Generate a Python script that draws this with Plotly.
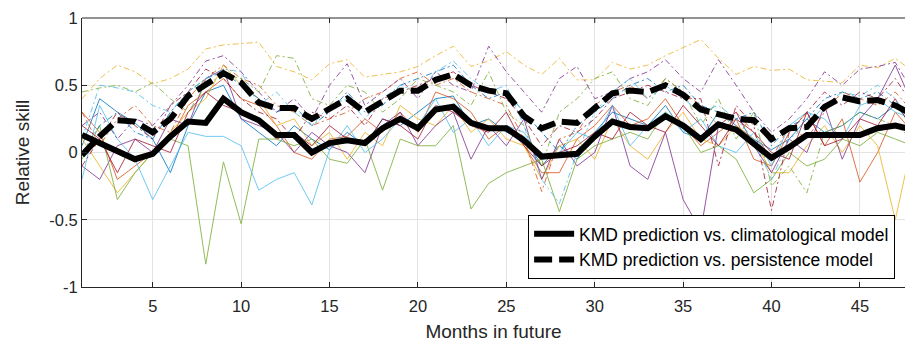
import plotly.graph_objects as go

months = list(range(1, 49))

# Thick black summary lines
clim_skill = [0.13, 0.07, 0.01, -0.05, -0.01, 0.12, 0.23, 0.22, 0.40, 0.30, 0.24, 0.13,
              0.13, 0.00, 0.07, 0.09, 0.07, 0.18, 0.25, 0.18, 0.32, 0.34, 0.22, 0.18,
              0.18, 0.09, -0.03, -0.02, -0.01, 0.12, 0.23, 0.19, 0.18, 0.27, 0.20, 0.10,
              0.21, 0.17, 0.07, -0.04, 0.04, 0.13, 0.13, 0.13, 0.13, 0.18, 0.20, 0.17]
pers_skill = [-0.02, 0.12, 0.24, 0.23, 0.15, 0.25, 0.42, 0.51, 0.59, 0.52, 0.37, 0.33,
              0.33, 0.25, 0.33, 0.40, 0.30, 0.38, 0.46, 0.46, 0.54, 0.58, 0.50, 0.46,
              0.44, 0.27, 0.18, 0.23, 0.22, 0.33, 0.44, 0.46, 0.45, 0.50, 0.43, 0.32,
              0.29, 0.25, 0.24, 0.10, 0.18, 0.19, 0.34, 0.41, 0.38, 0.39, 0.35, 0.28]

# Thin solid lines (vs. climatological model)
blue_s = [0.05, 0.40, 0.30, 0.22, 0.10, -0.15, 0.20, 0.45, 0.50, 0.25, 0.15, 0.05,
          0.20, 0.10, 0.02, 0.15, 0.05, 0.25, 0.20, 0.30, 0.40, 0.42, 0.20, 0.25,
          0.15, 0.12, -0.10, 0.05, -0.05, 0.15, 0.30, 0.25, 0.20, 0.35, 0.15, 0.10,
          0.30, 0.20, 0.10, 0.02, 0.10, 0.25, 0.15, 0.20, 0.30, 0.25, 0.35, 0.20]
orange_s = [0.30, 0.15, -0.20, -0.10, 0.00, 0.10, 0.35, 0.45, 0.55, 0.40, 0.35, 0.20,
            0.00, -0.05, 0.10, 0.12, 0.25, 0.15, 0.30, 0.15, 0.45, 0.40, 0.30, 0.10,
            0.20, 0.05, -0.15, -0.15, 0.10, 0.20, 0.35, 0.20, 0.25, 0.40, 0.20, 0.05,
            0.15, 0.25, -0.05, -0.10, 0.15, 0.30, 0.05, 0.25, -0.22, 0.00, 0.30, 0.15]
yellow_s = [0.10, -0.10, -0.30, -0.15, 0.00, 0.15, 0.30, 0.40, 0.65, 0.50, 0.40, 0.20,
            0.25, 0.05, 0.15, -0.05, 0.15, 0.05, 0.35, 0.25, 0.20, 0.35, 0.15, 0.25,
            0.10, 0.05, -0.20, 0.05, 0.10, -0.05, 0.25, 0.05, -0.05, 0.15, 0.30, 0.10,
            0.05, 0.20, 0.10, -0.15, -0.15, 0.05, 0.20, 0.00, 0.20, 0.05, -0.50, 0.10]
purple_s = [-0.10, -0.20, 0.05, 0.10, 0.00, 0.25, 0.20, 0.55, 0.62, 0.25, 0.20, 0.15,
            0.00, 0.15, 0.05, 0.00, -0.15, 0.20, 0.30, 0.05, 0.20, 0.30, -0.05, 0.20,
            0.05, 0.25, -0.20, 0.10, -0.10, 0.00, 0.35, -0.10, -0.20, 0.15, -0.35, -0.58,
            0.20, 0.30, 0.05, -0.15, 0.10, 0.00, 0.35, -0.05, 0.25, 0.40, 0.65, 0.35]
green_s = [-0.05, 0.20, -0.35, -0.15, 0.00, 0.10, 0.05, -0.83, -0.07, -0.53, 0.10, 0.10,
           0.05, 0.10, -0.05, -0.08, 0.10, -0.28, 0.10, 0.05, 0.05, 0.20, -0.42, -0.23,
           -0.15, -0.10, -0.05, -0.44, -0.05, 0.05, 0.10, 0.15, 0.10, 0.30, 0.20, 0.00,
           0.05, -0.05, -0.30, -0.20, 0.00, -0.10, -0.05, 0.10, 0.05, 0.15, 0.10, 0.05]
cyan_s = [-0.20, 0.35, 0.10, -0.05, -0.35, -0.10, 0.15, 0.12, 0.12, 0.05, -0.28, -0.20,
          -0.15, -0.39, 0.02, 0.20, 0.00, 0.10, 0.25, 0.20, 0.40, 0.15, 0.25, 0.05,
          0.20, 0.15, -0.05, 0.00, 0.15, 0.10, 0.35, 0.05, 0.20, 0.30, 0.15, 0.25,
          0.05, 0.00, 0.15, -0.10, 0.20, 0.30, 0.25, 0.10, 0.35, 0.40, 0.30, 0.25]
red_s = [0.20, 0.10, -0.15, 0.10, 0.05, 0.00, 0.30, 0.45, 0.35, 0.30, 0.25, 0.10,
         0.15, 0.05, 0.20, 0.10, 0.05, 0.25, 0.20, 0.10, 0.35, 0.30, 0.20, 0.15,
         0.30, 0.05, -0.10, 0.00, 0.05, 0.15, 0.10, 0.30, 0.20, 0.15, 0.35, 0.20,
         0.05, 0.25, 0.15, 0.00, -0.05, 0.30, 0.05, 0.10, 0.25, 0.20, 0.40, 0.15]

# Thin dash-dot lines (vs. persistence model)
blue_d = [0.00, 0.20, 0.30, 0.15, 0.10, 0.30, 0.45, 0.55, 0.60, 0.50, 0.40, 0.30,
          0.35, 0.20, 0.30, 0.45, 0.30, 0.35, 0.50, 0.55, 0.60, 0.65, 0.50, 0.40,
          0.45, 0.30, 0.15, 0.00, 0.20, 0.30, 0.40, 0.50, 0.55, 0.45, 0.50, 0.35,
          0.30, 0.25, 0.30, 0.05, 0.20, 0.25, 0.40, 0.45, 0.40, 0.45, 0.35, 0.30]
orange_d = [0.30, 0.05, 0.25, 0.35, 0.20, 0.15, 0.40, 0.55, 0.65, 0.55, 0.50, 0.35,
            0.30, 0.20, 0.25, 0.30, 0.40, 0.45, 0.55, 0.60, 0.50, 0.55, 0.45, 0.40,
            0.35, 0.10, -0.29, 0.10, 0.15, 0.35, 0.45, 0.50, 0.40, 0.55, 0.45, 0.35,
            0.20, 0.30, 0.15, -0.05, 0.20, 0.10, 0.30, 0.45, 0.40, 0.35, 0.45, 0.30]
yellow_d = [0.40, 0.55, 0.65, 0.60, 0.51, 0.55, 0.62, 0.77, 0.80, 0.81, 0.82, 0.64,
            0.60, 0.54, 0.66, 0.69, 0.56, 0.58, 0.60, 0.64, 0.72, 0.79, 0.64, 0.68,
            0.75, 0.65, 0.58, 0.70, 0.54, 0.54, 0.67, 0.62, 0.65, 0.72, 0.78, 0.84,
            0.70, 0.58, 0.64, 0.61, 0.62, 0.54, 0.53, 0.52, 0.65, 0.63, 0.70, 0.60]
purple_d = [0.20, 0.30, 0.10, 0.25, 0.20, 0.35, 0.50, 0.68, 0.72, 0.60, 0.45, 0.30,
            0.40, 0.25, 0.50, 0.66, 0.35, 0.45, 0.55, 0.40, 0.60, 0.50, 0.45, 0.79,
            0.60, 0.45, 0.30, 0.55, 0.64, 0.40, 0.45, 0.55, 0.60, 0.69, 0.55, 0.45,
            0.69, 0.50, 0.30, 0.15, 0.25, 0.40, 0.60, 0.50, 0.62, 0.64, 0.67, 0.45]
green_d = [0.45, 0.48, 0.50, 0.45, 0.52, 0.40, 0.30, 0.50, 0.58, 0.55, 0.45, 0.72,
           0.70, 0.40, 0.35, 0.50, 0.45, 0.30, 0.40, 0.55, 0.50, 0.45, 0.35, 0.60,
           0.30, 0.20, -0.10, 0.30, 0.40, 0.55, 0.60, 0.40, 0.35, 0.55, 0.45, 0.20,
           0.40, 0.10, 0.30, -0.25, -0.10, -0.30, 0.15, 0.20, 0.30, 0.25, 0.20, 0.10]
cyan_d = [0.10, 0.50, 0.48, 0.45, 0.35, 0.30, 0.45, 0.55, 0.62, 0.60, 0.35, 0.45,
          0.30, 0.20, 0.35, 0.40, 0.25, 0.40, 0.50, 0.45, 0.60, 0.68, 0.55, 0.45,
          0.50, 0.20, -0.20, -0.38, 0.00, 0.30, 0.45, 0.55, 0.40, 0.50, 0.40, 0.30,
          0.35, 0.25, 0.10, -0.20, 0.10, 0.20, 0.35, 0.45, 0.42, 0.50, 0.40, 0.20]
red_d = [-0.10, 0.10, 0.30, 0.20, 0.10, 0.35, 0.45, 0.62, 0.55, 0.40, 0.30, 0.25,
         0.10, 0.30, 0.25, 0.35, 0.20, 0.40, 0.45, 0.50, 0.55, 0.60, 0.50, 0.45,
         0.40, 0.25, 0.05, 0.20, 0.15, 0.25, 0.40, 0.45, 0.50, 0.45, 0.40, 0.40,
         -0.10, 0.35, 0.20, -0.43, 0.15, 0.30, 0.45, 0.35, 0.45, 0.40, 0.55, 0.35]

x_ticks = [5, 10, 15, 20, 25, 30, 35, 40, 45]
y_ticks = [-1, -0.5, 0, 0.5, 1]
y_tick_labels = ["-1", "-0.5", "0", "0.5", "1"]

colors = ["#0072BD", "#D95319", "#EDB120", "#7E2F8E", "#77AC30", "#4DBEEE", "#A2142F"]
solid_series = [blue_s, orange_s, yellow_s, purple_s, green_s, cyan_s, red_s]
dashdot_series = [blue_d, orange_d, yellow_d, purple_d, green_d, cyan_d, red_d]

fig = go.Figure()
for c, ys in zip(colors, solid_series):
    fig.add_trace(go.Scatter(x=months, y=ys, mode="lines", showlegend=False,
                             line=dict(color=c, width=1), opacity=0.8))
for c, ys in zip(colors, dashdot_series):
    fig.add_trace(go.Scatter(x=months, y=ys, mode="lines", showlegend=False,
                             line=dict(color=c, width=1, dash="6px,3px,2px,3px"), opacity=0.8))

fig.add_trace(go.Scatter(x=months, y=clim_skill, mode="lines",
                         name="KMD prediction vs. climatological model",
                         line=dict(color="black", width=6)))
fig.add_trace(go.Scatter(x=months, y=pers_skill, mode="lines",
                         name="KMD prediction vs. persistence model",
                         line=dict(color="black", width=6, dash="18px,7px")))

axis_col = "#262626"
fig.update_layout(
    width=905, height=348,
    margin=dict(l=82, r=0, t=18, b=61),
    paper_bgcolor="white", plot_bgcolor="white",
    font=dict(family="Arial, Liberation Sans, sans-serif", color=axis_col, size=16),
    showlegend=True,
    legend=dict(x=0.988, y=0.03, xanchor="right", yanchor="bottom",
                bgcolor="white", bordercolor="black", borderwidth=1,
                font=dict(size=17.5, color="black"), tracegroupgap=0,
                itemwidth=40),
    xaxis=dict(range=[1, 47.55], tickvals=x_ticks, ticks="inside", ticklen=5,
               tickcolor=axis_col, showline=True, linecolor=axis_col, linewidth=1,
               mirror=False, showgrid=True, gridcolor="#e3e3e3", gridwidth=1,
               zeroline=False, tickfont=dict(size=16.5), ticklabelstandoff=4,
               title=dict(text="Months in future", font=dict(size=19), standoff=10)),
    yaxis=dict(range=[-1, 1], tickvals=y_ticks, ticktext=y_tick_labels,
               ticks="inside", ticklen=5, tickcolor=axis_col, showline=True,
               linecolor=axis_col, linewidth=1, showgrid=True, gridcolor="#e3e3e3",
               gridwidth=1, zeroline=False, tickfont=dict(size=16.5),
               title=dict(text="Relative skill", font=dict(size=19), standoff=14)),
)
# top border with ticks (MATLAB box)
fig.add_shape(type="line", xref="paper", yref="paper", x0=0, x1=1, y0=1, y1=1,
              line=dict(color=axis_col, width=1))
for t in x_ticks:
    fig.add_shape(type="line", xref="x", yref="paper", x0=t, x1=t, y0=1, y1=1 - 5 / 269,
                  line=dict(color=axis_col, width=1))

fig.write_html("out.html")
